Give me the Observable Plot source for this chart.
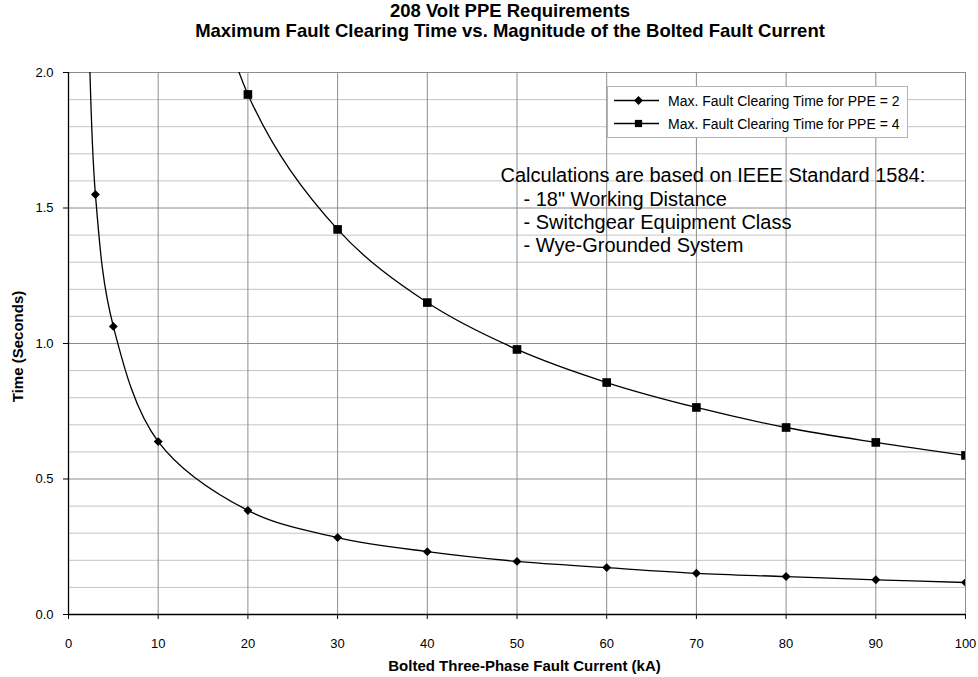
<!DOCTYPE html>
<html><head><meta charset="utf-8">
<script src="https://cdn.jsdelivr.net/npm/d3@7"></script>
<script src="https://cdn.jsdelivr.net/npm/@observablehq/plot@0.6"></script>
<style>
body{margin:0;background:#fff;font-family:"Liberation Sans",Arial,sans-serif;color:#000;}
#wrap{position:relative;width:978px;height:677px;overflow:hidden;}
#title{height:45px;box-sizing:border-box;padding-top:1px;padding-left:42px;text-align:center;font-weight:bold;font-size:18.5px;line-height:20px;}
#legend{position:absolute;left:607px;top:86px;width:301px;height:52px;box-sizing:border-box;border:1px solid #b4b4b4;background:#fff;}
#legend .row{position:absolute;left:0;height:20px;width:100%;}
#legend svg{position:absolute;left:5px;top:0;}
#legend span{position:absolute;left:60px;top:2px;font-size:14px;line-height:16px;white-space:nowrap;}
</style></head>
<body>
<div id="wrap">
<div id="title"></div>
<div id="chart"></div>
<div id="legend"></div>
</div>
<script>
// ---- data ----
const titleLines = ["208 Volt PPE Requirements", "Maximum Fault Clearing Time vs. Magnitude of the Bolted Fault Current"];
const xLabel = "Bolted Three-Phase Fault Current (kA)";
const yLabel = "Time (Seconds)";
const seriesNames = ["Max. Fault Clearing Time for PPE = 2", "Max. Fault Clearing Time for PPE = 4"];
const current2 = [2, 3, 5, 10, 20, 30, 40, 50, 60, 70, 80, 90, 100];
const time2 = [2.7, 1.55, 1.063, 0.638, 0.384, 0.284, 0.232, 0.196, 0.173, 0.152, 0.140, 0.128, 0.118];
const current4 = [10, 20, 30, 40, 50, 60, 70, 80, 90, 100];
const time4 = [3.2, 1.919, 1.421, 1.151, 0.978, 0.856, 0.764, 0.690, 0.635, 0.587];
const xTicks = [0, 10, 20, 30, 40, 50, 60, 70, 80, 90, 100];
const yTicks = [0, 0.5, 1.0, 1.5, 2.0];
const noteHeader = "Calculations are based on IEEE Standard 1584:";
const noteItems = ["- 18\" Working Distance", "- Switchgear Equipment Class", "- Wye-Grounded System"];

// ---- build ----
document.getElementById("title").innerHTML = titleLines.join("<br>");

const s2 = current2.map((x, i) => ({x, y: time2[i]}));
const s4 = current4.map((x, i) => ({x, y: time4[i]}));
const yMinor = d3.range(0, 2.0001, 0.1).map(v => +v.toFixed(1)).filter(v => !yTicks.includes(v));

const chart = Plot.plot({
  width: 978, height: 632,
  marginTop: 27, marginBottom: 63, marginLeft: 68, marginRight: 13,
  style: {fontFamily: "'Liberation Sans', Arial, sans-serif", fontSize: "13px", color: "#000", background: "#fff", overflow: "visible"},
  x: {domain: [0, 100]},
  y: {domain: [0, 2]},
  marks: [
    Plot.gridY(yMinor, {stroke: "#c4c4c4", strokeOpacity: 1, strokeWidth: 1}),
    Plot.gridY(yTicks, {stroke: "#8c8c8c", strokeOpacity: 1, strokeWidth: 1}),
    Plot.gridX(xTicks, {stroke: "#8c8c8c", strokeOpacity: 1, strokeWidth: 1}),
    Plot.text([noteHeader], {frameAnchor: "top-left", dx: 432, dy: 109, lineAnchor: "bottom", textAnchor: "start", fontSize: 20, fill: "#000"}),
    Plot.text([noteItems.join("\n")], {frameAnchor: "top-left", dx: 455, dy: 179, lineAnchor: "bottom", textAnchor: "start", fontSize: 20, lineHeight: 1.15, fill: "#000"}),
    Plot.ruleX([0], {stroke: "#000", strokeWidth: 1.3}),
    Plot.ruleY([0], {stroke: "#000", strokeWidth: 1.3}),
    Plot.axisX(xTicks, {tickSize: 5, tickPadding: 19, label: null, fontSize: 13, stroke: "#000"}),
    Plot.axisY(yTicks, {tickSize: 5, tickPadding: 10, tickFormat: d3.format(".1f"), label: null, fontSize: 13, stroke: "#000"}),
    Plot.text([xLabel], {frameAnchor: "bottom", dx: 7.5, dy: 56, lineAnchor: "bottom", textAnchor: "middle", fontSize: 15, fontWeight: "bold", fill: "#000"}),
    Plot.text([yLabel], {frameAnchor: "left", dx: -50, dy: 3, rotate: -90, textAnchor: "middle", lineAnchor: "middle", fontSize: 15, fontWeight: "bold", fill: "#000"}),
    Plot.line(s2, {x: "x", y: "y", curve: "catmull-rom", stroke: "#000", strokeWidth: 1.3, clip: true}),
    Plot.line(s4, {x: "x", y: "y", curve: "catmull-rom", stroke: "#000", strokeWidth: 1.3, clip: true}),
    Plot.dot(s2, {x: "x", y: "y", symbol: "diamond2", r: 4, fill: "#000", stroke: "none", clip: true}),
    Plot.dot(s4, {x: "x", y: "y", symbol: "square2", r: 5.5, fill: "#000", stroke: "none", clip: true})
  ]
});
document.getElementById("chart").appendChild(chart);

// ---- legend ----
const legend = d3.select("#legend");
const legendSymbols = [d3.symbolDiamond2, d3.symbolSquare2];
const legendSizes = [Math.PI * 16, Math.PI * 5.5 * 5.5 * 0.7];
seriesNames.forEach((name, i) => {
  const row = legend.append("div").attr("class", "row").style("top", (4 + i * 23) + "px");
  const svg = row.append("svg").attr("width", 50).attr("height", 20);
  svg.append("line").attr("x1", 1).attr("x2", 46).attr("y1", 9.5).attr("y2", 9.5).attr("stroke", "#000").attr("stroke-width", 1.3);
  svg.append("path").attr("transform", "translate(25.5,9.5)").attr("d", d3.symbol(legendSymbols[i], legendSizes[i])()).attr("fill", "#000");
  row.append("span").text(name);
});
</script>
</body></html>
